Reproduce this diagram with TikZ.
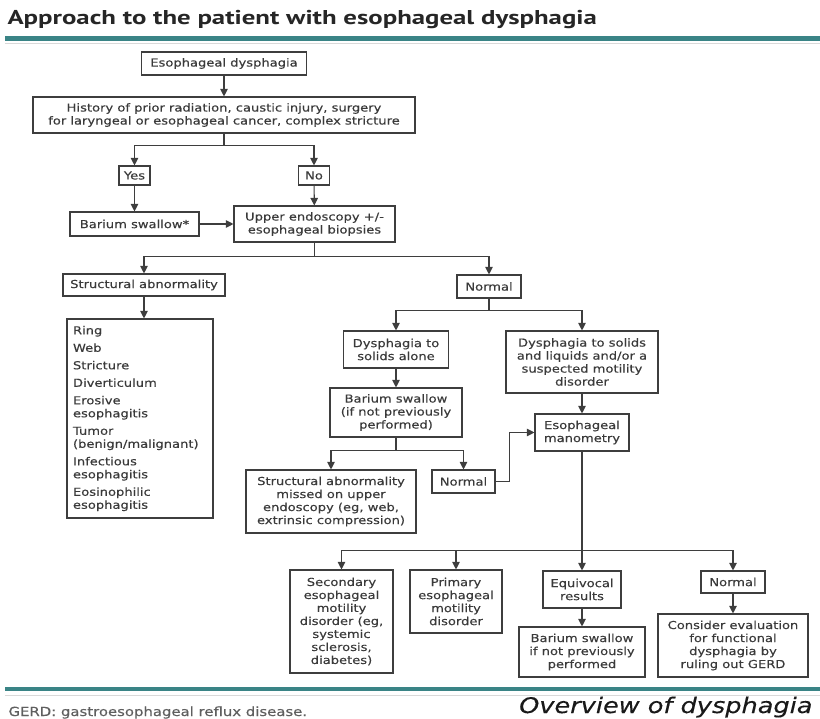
\documentclass[tikz,border=0pt]{standalone}
\usepackage{fontspec}
\setmainfont{DejaVu Sans}[FakeStretch=1.19, FakeBold=0.3]
\newfontfamily\headfont{PT Sans}[FakeStretch=1.34]
\usetikzlibrary{arrows.meta}
\definecolor{rulecol}{RGB}{58,132,134}
\definecolor{inkcol}{RGB}{58,58,58}
\definecolor{linecol}{RGB}{62,62,62}
\definecolor{notecol}{RGB}{95,95,95}
\tikzset{
	box/.style={draw=linecol, line width=1.1pt, text=inkcol, align=center, inner sep=1pt,
		font=\fontsize{11}{13}\selectfont},
	arr/.style={draw=linecol, line width=1.1pt, -{Triangle[length=7.5pt,width=7.5pt]}},
}

\begin{document}
\begin{tikzpicture}[x=1pt,y=-1pt]
	\useasboundingbox (0,0) rectangle (820,719);
	% heading and rules
	\node[anchor=base west, text=black!85, font=\headfont\bfseries\fontsize{20}{24}\selectfont] (title) at (4,25) {Approach to the patient with esophageal dysphagia};
	\fill[rulecol] (5,36.5) rectangle (820,41.5);
	\draw[black!15, line width=1pt] (5,44) -- (820,44);

	% upper part
	\node[box, minimum width=165pt, minimum height=23pt] (dys) at (224,63.5) {Esophageal dysphagia};
	\node[box, minimum width=382pt, minimum height=36pt] (hist) at (224,115) {History of prior radiation, caustic injury, surgery\\for laryngeal or esophageal cancer, complex stricture};
	\node[box, minimum width=31pt, minimum height=19pt] (yes) at (134.5,175.5) {Yes};
	\node[box, minimum width=31pt, minimum height=19pt] (no) at (314,175.5) {No};
	\node[box, minimum width=129pt, minimum height=24pt] (bar) at (134.5,224) {Barium swallow*};
	\node[box, minimum width=161pt, minimum height=36pt] (endo) at (314.5,224) {Upper endoscopy +/-\\esophageal biopsies};

	% left branch
	\node[box, minimum width=162pt, minimum height=22pt] (struct) at (144,285) {Structural abnormality};
	\node[box, align=left, text width=134pt, minimum width=146pt, minimum height=199pt] (list) at (140,418.5) {Ring\\[4.5pt]Web\\[4.5pt]Stricture\\[4.5pt]Diverticulum\\[4.5pt]Erosive\\esophagitis\\[4.5pt]Tumor\\(benign/malignant)\\[4.5pt]Infectious\\esophagitis\\[4.5pt]Eosinophilic\\esophagitis};

	% right branch
	\node[box, minimum width=64pt, minimum height=23pt] (norm1) at (489,286.5) {Normal};
	\node[box, minimum width=105pt, minimum height=37pt] (solids) at (396,349.5) {Dysphagia to\\solids alone};
	\node[box, minimum width=152pt, minimum height=62pt] (liquids) at (582,362) {Dysphagia to solids\\and liquids and/or a\\suspected motility\\disorder};
	\node[box, minimum width=132pt, minimum height=49pt] (bar2) at (396,412.5) {Barium swallow\\(if not previously\\performed)};
	\node[box, minimum width=94pt, minimum height=37pt] (mano) at (582,432.5) {Esophageal\\manometry};
	\node[box, minimum width=170pt, minimum height=63pt] (missed) at (331,501.5) {Structural abnormality\\missed on upper\\endoscopy (eg, web,\\extrinsic compression)};
	\node[box, minimum width=63pt, minimum height=23pt] (norm2) at (463.5,481.5) {Normal};

	% manometry results
	\node[box, minimum width=103pt, minimum height=103pt] (second) at (341.5,621.5) {Secondary\\esophageal\\motility\\disorder (eg,\\systemic\\sclerosis,\\diabetes)};
	\node[box, minimum width=92pt, minimum height=63pt] (primary) at (456,601.5) {Primary\\esophageal\\motility\\disorder};
	\node[box, minimum width=78pt, minimum height=37pt] (equiv) at (582,589.5) {Equivocal\\results};
	\node[box, minimum width=126pt, minimum height=50pt] (bar3) at (582,652) {Barium swallow\\if not previously\\performed};
	\node[box, minimum width=64pt, minimum height=22pt] (norm3) at (733,582) {Normal};
	\node[box, minimum width=150pt, minimum height=63pt] (consider) at (733,645.5) {Consider evaluation\\for functional\\dysphagia by\\ruling out GERD};

	% connectors
	\draw[arr] (dys) -- (hist);
	\foreach \n in {yes,no}
	  \draw[arr] (hist.south) -- ++(0,12) -| (\n.north);
	\draw[arr] (yes) -- (bar);
	\draw[arr] (no) -- (endo);
	\draw[arr] (bar) -- (endo);
	\foreach \n in {struct,norm1}
	  \draw[arr] (endo.south) -- ++(0,14) -| (\n.north);
	\draw[arr] (struct.south) -- (struct.south |- list.north);
	\foreach \n in {solids,liquids}
	  \draw[arr] (norm1.south) -- ++(0,12) -| (\n.north);
	\draw[arr] (solids) -- (bar2);
	\draw[arr] (liquids) -- (mano);
	\foreach \n in {missed,norm2}
	  \draw[arr] (bar2.south) -- ++(0,13) -| (\n.north);
	\draw[arr] (norm2.east) -- ++(14,0) |- (mano.west);
	\foreach \n in {second,primary,equiv,norm3}
	  \draw[arr] (mano.south) -- ++(0,99) -| (\n.north);
	\draw[arr] (equiv) -- (bar3);
	\draw[arr] (norm3) -- (consider);

	% footer
	\fill[rulecol] (5,686.5) rectangle (820,690.5);
	\draw[black!15, line width=1pt] (5,695) -- (820,695);
	\node[anchor=base west, text=notecol, font=\fontsize{12.5}{15}\selectfont] (note) at (5,716) {GERD: gastroesophageal reflux disease.};
	\node[anchor=base east, text=black!90, font=\itshape\fontsize{21.5}{26}\selectfont] (topic) at (816,713) {Overview of dysphagia};%
\end{tikzpicture}
\end{document}
